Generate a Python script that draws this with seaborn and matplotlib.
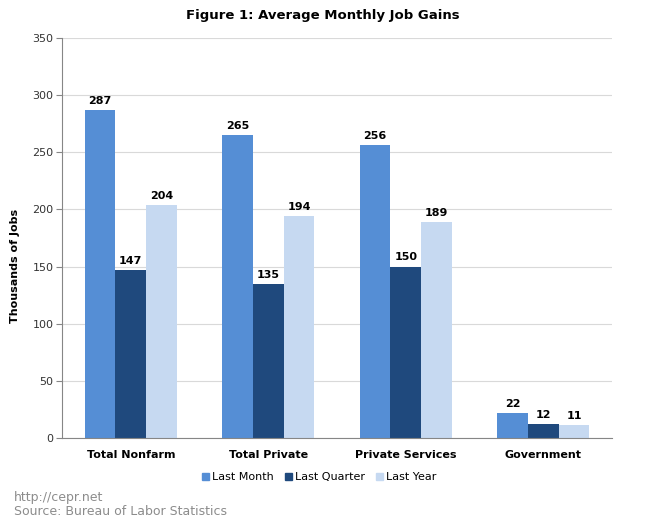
import matplotlib
matplotlib.use("Agg")
import matplotlib.pyplot as plt
import pandas as pd
import seaborn as sns

categories = ["Total Nonfarm", "Total Private", "Private Services", "Government"]
series = ["Last Month", "Last Quarter", "Last Year"]
last_month = [287, 265, 256, 22]
last_quarter = [147, 135, 150, 12]
last_year = [204, 194, 189, 11]
colors = ["#558ED5", "#1F497D", "#C6D9F1"]

rows = []
for name, vals in zip(series, [last_month, last_quarter, last_year]):
    for cat, v in zip(categories, vals):
        rows.append({"Category": cat, "Series": name, "Value": v})
df = pd.DataFrame(rows)

sns.set_style("white")
plt.rcParams["font.family"] = ["DejaVu Sans"]
plt.rcParams["text.color"] = "black"

fig = plt.figure(figsize=(6.45, 5.26), dpi=100)
ax = fig.add_axes([0.0961, 0.1673, 0.853, 0.7605])

sns.barplot(data=df, x="Category", y="Value", hue="Series", palette=colors,
            order=categories, hue_order=series, width=0.67, saturation=1,
            linewidth=0, ax=ax, legend=False)

for container in ax.containers:
    ax.bar_label(container, fmt="%d", padding=3, fontsize=8, fontweight="bold",
                 color="black")

ax.set_ylim(0, 350)
ax.set_yticks(range(0, 351, 50))
ax.yaxis.grid(True, color="#D9D9D9", linewidth=0.8)
ax.set_axisbelow(True)
for s in ["top", "right"]:
    ax.spines[s].set_visible(False)
ax.spines["left"].set_color("#868686")
ax.spines["bottom"].set_color("#868686")
ax.tick_params(axis="y", left=True, length=4, color="#868686", labelsize=8,
               labelcolor="#333333", pad=2)
ax.tick_params(axis="x", bottom=False, labelsize=8, labelcolor="black", pad=5)
for lbl in ax.get_xticklabels():
    lbl.set_fontweight("bold")
ax.set_xlabel("")
ax.set_ylabel("Thousands of Jobs", fontsize=8, fontweight="bold", color="black")
ax.yaxis.set_label_coords(-0.076, 0.43)

fig.suptitle("Figure 1: Average Monthly Job Gains", x=0.5, y=0.983,
             fontsize=9.5, fontweight="bold", color="black")

handles = [plt.Rectangle((0, 0), 1, 1, color=c) for c in colors]
fig.legend(handles, series, loc="center", bbox_to_anchor=(0.495, 0.093), ncol=3,
           frameon=False, fontsize=8, handlelength=0.6, handleheight=0.6,
           handletextpad=0.3, columnspacing=1.0)

fig.text(0.022, 0.055, "http://cepr.net", fontsize=9, color="#8C8C8C", va="center")
fig.text(0.022, 0.028, "Source: Bureau of Labor Statistics", fontsize=9,
         color="#8C8C8C", va="center")

fig.savefig("out.png", dpi=100)
